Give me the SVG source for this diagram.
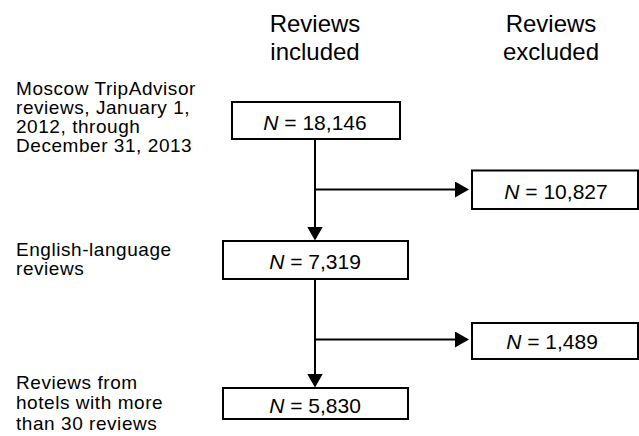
<svg xmlns="http://www.w3.org/2000/svg" width="639" height="436" viewBox="0 0 639 436">
  <style>
    text { font-family: "Liberation Sans", Arial, sans-serif; fill: #000; }
    .hdr { font-size: 24px; text-anchor: middle; }
    .lbl { font-size: 19px; letter-spacing: 0.55px; }
    .num { font-size: 21px; text-anchor: middle; }
    .box { fill: #fff; stroke: #000; stroke-width: 2; }
    .conn { fill: none; stroke: #000; stroke-width: 2; }
    .it { font-style: italic; }
  </style>
  <defs>
    <marker id="arrow" markerUnits="userSpaceOnUse" markerWidth="14" markerHeight="16" refX="8" refY="8" orient="auto">
      <path d="M0,0 L14,8 L0,16 Z" fill="#000"/>
    </marker>
  </defs>
  <rect width="639" height="436" fill="#fff"/>

  <g id="headers">
    <text class="hdr" x="315" y="32">Reviews</text>
    <text class="hdr" x="315" y="59.5">included</text>
    <text class="hdr" x="551" y="32">Reviews</text>
    <text class="hdr" x="551" y="59.5">excluded</text>
  </g>

  <g id="labels">
    <text class="lbl" x="16" y="94.5">Moscow TripAdvisor</text>
    <text class="lbl" x="16" y="113.5">reviews, January 1,</text>
    <text class="lbl" x="16" y="132.5">2012, through</text>
    <text class="lbl" x="16" y="151.5">December 31, 2013</text>
    <text class="lbl" x="16" y="256">English-language</text>
    <text class="lbl" x="16" y="275">reviews</text>
    <text class="lbl" x="16" y="388.5">Reviews from</text>
    <text class="lbl" x="16" y="409">hotels with more</text>
    <text class="lbl" x="16" y="430">than 30 reviews</text>
  </g>

  <g id="connectors">
    <path class="conn" d="M315,139 V234.5" marker-end="url(#arrow)"/>
    <path class="conn" d="M315,189.5 H463" marker-end="url(#arrow)"/>
    <path class="conn" d="M315,279 V381.5" marker-end="url(#arrow)"/>
    <path class="conn" d="M315,339.5 H463" marker-end="url(#arrow)"/>
  </g>

  <g id="node-total">
    <rect class="box" x="232" y="102" width="168" height="37"/>
    <text class="num" x="315" y="129.5"><tspan class="it">N</tspan> = 18,146</text>
  </g>
  <g id="node-excluded-language">
    <rect class="box" x="472" y="170.5" width="166" height="38.5"/>
    <text class="num" x="556" y="198.5"><tspan class="it">N</tspan> = 10,827</text>
  </g>
  <g id="node-english">
    <rect class="box" x="223" y="241" width="185" height="38"/>
    <text class="num" x="315" y="268.5"><tspan class="it">N</tspan> = 7,319</text>
  </g>
  <g id="node-excluded-hotels">
    <rect class="box" x="472" y="323" width="166" height="36"/>
    <text class="num" x="552" y="348.5"><tspan class="it">N</tspan> = 1,489</text>
  </g>
  <g id="node-final">
    <rect class="box" x="223" y="388" width="185" height="31"/>
    <text class="num" x="315" y="412.5"><tspan class="it">N</tspan> = 5,830</text>
  </g>
</svg>
